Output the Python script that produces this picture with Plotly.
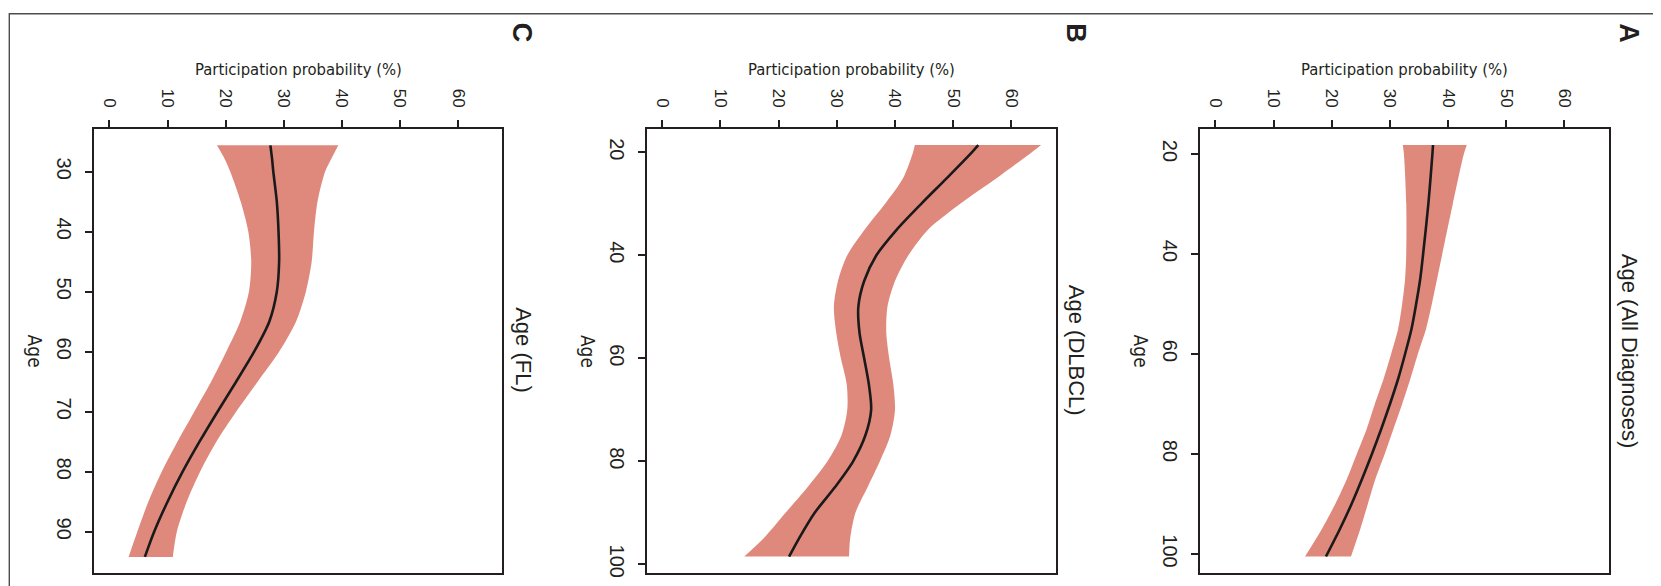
import plotly.graph_objects as go

W, H = 1661, 586

# ---------------- data ----------------
# Panel A: All diagnoses
age_A = [18.2, 20, 30, 40, 45, 50, 55, 60, 65, 70, 75, 80, 85, 90, 95, 100.5]
fit_A = [37.4, 37.3, 36.6, 35.7, 35.2, 34.5, 33.7, 32.6, 31.4, 30.0, 28.5, 26.9, 25.2, 23.4, 21.4, 19.0]
lo_A = [32.2, 32.4, 32.8, 32.8, 32.6, 32.1, 31.4, 30.2, 28.9, 27.4, 26.0, 24.3, 22.6, 20.6, 18.3, 15.4]
hi_A = [43.2, 42.7, 40.8, 39.0, 38.1, 37.2, 36.2, 34.8, 33.5, 32.1, 30.6, 29.1, 27.5, 26.2, 24.9, 23.3]

# Panel B: DLBCL
age_B = [18.6, 20, 25, 30, 35, 40, 45, 50, 55, 60, 65, 70, 75, 80, 85, 90, 95, 98.5]
fit_B = [54.3, 53.2, 48.9, 44.5, 40.3, 36.8, 34.7, 33.7, 33.9, 34.7, 35.5, 35.9, 34.9, 32.8, 29.7, 26.2, 23.5, 21.8]
lo_B = [43.4, 43.1, 41.4, 38.3, 34.8, 31.8, 30.2, 29.5, 29.9, 30.7, 31.7, 31.8, 30.8, 28.4, 25.0, 21.2, 17.4, 14.1]
hi_B = [65.1, 63.5, 57.5, 51.2, 45.7, 42.3, 40.0, 38.7, 38.5, 39.0, 39.7, 40.0, 39.2, 37.4, 35.3, 33.2, 32.3, 32.1]

# Panel C: FL
age_C = [25.6, 28, 30, 35, 40, 45, 50, 55, 60, 65, 70, 75, 80, 85, 90, 94.2]
fit_C = [27.7, 28.0, 28.2, 28.8, 29.1, 29.2, 28.8, 27.5, 24.9, 21.8, 18.6, 15.5, 12.6, 10.0, 7.7, 6.1]
lo_C = [18.5, 19.9, 20.8, 22.6, 23.9, 24.4, 24.0, 22.5, 20.1, 17.5, 14.6, 11.7, 9.0, 6.7, 4.8, 3.3]
hi_C = [39.4, 38.1, 37.1, 35.8, 35.2, 34.8, 33.8, 32.1, 29.2, 25.5, 21.8, 18.4, 15.6, 13.3, 11.6, 10.9]

prob_ticks = [0, 10, 20, 30, 40, 50, 60]
age_ticks_C = [30, 40, 50, 60, 70, 80, 90]
age_ticks_AB = [20, 40, 60, 80, 100]

panel_letters = ["C", "B", "A"]
panel_titles = ["Age (FL)", "Age (DLBCL)", "Age (All Diagnoses)"]
x_title = "Participation probability (%)"
y_title = "Age"

# ---------------- layout geometry (pixels) ----------------
box_x = [(86.3, 494.3), (639.0, 1047.7), (1192.3, 1600.7)]
box_top, box_bot = 120.7, 565.0
age_ranges = [(96.88, 22.83), (101.69, 15.42), (103.8, 14.94)]
prob_range = [-2.6, 67.6]

INK = "#231f20"
BAND = "#df897d"
NARROW = "Liberation Sans Narrow, DejaVu Sans Condensed, Arial Narrow, sans-serif"
REG = "Liberation Sans, Arial, sans-serif"

def px(x):
    return x / W

def py(y):
    return 1 - y / H

panels = [
    (age_C, fit_C, lo_C, hi_C, age_ticks_C),
    (age_B, fit_B, lo_B, hi_B, age_ticks_AB),
    (age_A, fit_A, lo_A, hi_A, age_ticks_AB),
]

fig = go.Figure()
layout = dict(
    width=W, height=H,
    margin=dict(l=0, r=0, t=0, b=0),
    paper_bgcolor="white", plot_bgcolor="white",
    showlegend=False,
)
annotations = []

for i, (ages, fit, lo, hi, aticks) in enumerate(panels):
    n = "" if i == 0 else str(i + 1)
    xa, ya = "x" + n, "y" + n
    fig.add_trace(go.Scatter(x=lo, y=ages, xaxis=xa, yaxis=ya, mode="lines",
                             line=dict(width=0, shape="spline", smoothing=0.8, color=BAND),
                             hoverinfo="skip"))
    fig.add_trace(go.Scatter(x=hi, y=ages, xaxis=xa, yaxis=ya, mode="lines",
                             line=dict(width=0, shape="spline", smoothing=0.8, color=BAND),
                             fill="tonextx", fillcolor=BAND, hoverinfo="skip"))
    fig.add_trace(go.Scatter(x=fit, y=ages, xaxis=xa, yaxis=ya, mode="lines",
                             line=dict(width=2.6, shape="spline", smoothing=0.8, color="#1a1a1a")))
    x0, x1 = box_x[i]
    layout["xaxis" + n] = dict(
        domain=[px(x0), px(x1)], anchor=ya, side="top",
        range=prob_range, tickmode="array", tickvals=prob_ticks,
        ticks="outside", ticklen=7, tickwidth=2, tickcolor=INK,
        tickangle=90, tickfont=dict(family=REG, size=17, color=INK),
        ticklabelstandoff=6,
        showline=True, linewidth=2.2, linecolor=INK, mirror=True,
        showgrid=False, zeroline=False, automargin=False,
    )
    layout["yaxis" + n] = dict(
        domain=[py(box_bot), py(box_top)], anchor=xa,
        range=list(age_ranges[i]), tickmode="array", tickvals=aticks,
        ticks="outside", ticklen=7, tickwidth=2, tickcolor=INK,
        tickangle=90, tickfont=dict(family=REG, size=20, color=INK),
        ticklabelstandoff=4,
        showline=True, linewidth=2.2, linecolor=INK, mirror=True,
        showgrid=False, zeroline=False, automargin=False,
    )
    cx = (x0 + x1) / 2
    annotations.append(dict(text=x_title, x=px(cx), y=py(61.7), xref="paper", yref="paper",
                            showarrow=False, xanchor="center", yanchor="middle",
                            font=dict(family=NARROW, size=16.5, color=INK)))
    annotations.append(dict(text=y_title, x=px(x0 - 59), y=py(342.9), xref="paper", yref="paper",
                            showarrow=False, xanchor="center", yanchor="middle", textangle=90,
                            font=dict(family=NARROW, size=19, color=INK)))
    annotations.append(dict(text=panel_titles[i], x=px(x1 + 21), y=py(342.5), xref="paper", yref="paper",
                            showarrow=False, xanchor="center", yanchor="middle", textangle=90,
                            font=dict(family=REG, size=22, color=INK)))
    annotations.append(dict(text="<b>" + panel_letters[i] + "</b>", x=px(x1 + 20), y=py(25),
                            xref="paper", yref="paper",
                            showarrow=False, xanchor="center", yanchor="middle", textangle=90,
                            font=dict(family=REG, size=27, color=INK)))

layout["annotations"] = annotations
layout["shapes"] = [dict(type="rect", xref="paper", yref="paper",
                         x0=px(1.3), x1=px(1652.3), y0=-0.05, y1=py(5.7),
                         line=dict(color="#4d4d4d", width=1.4), fillcolor="rgba(0,0,0,0)")]
fig.update_layout(**layout)
fig.write_html("out.html")
